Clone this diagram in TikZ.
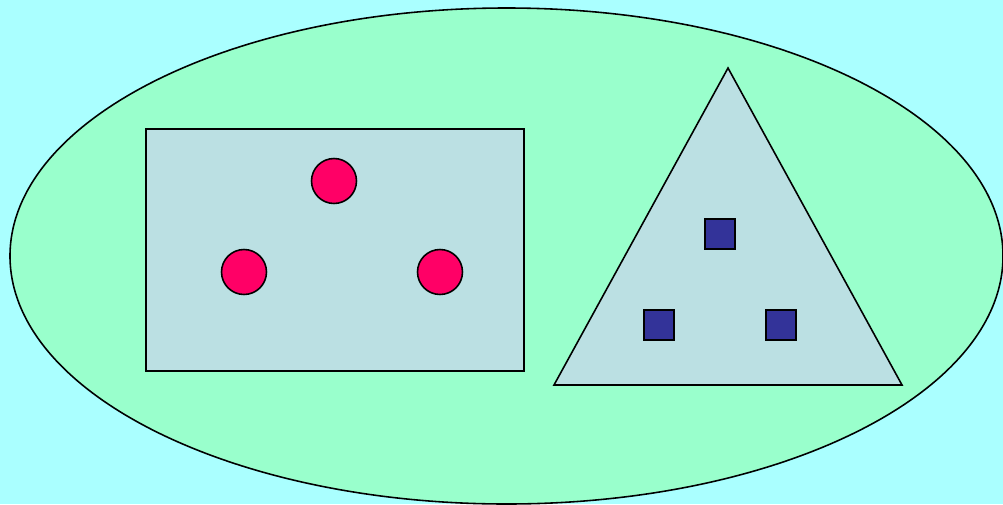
\documentclass[tikz,border=0pt]{standalone}
\usepackage{tikz}
\usetikzlibrary{shapes.geometric, positioning}
\definecolor{skycyan}{RGB}{170,255,255}
\definecolor{mintgreen}{RGB}{153,255,204}
\definecolor{paleblue}{RGB}{187,224,227}
\definecolor{hotpink}{RGB}{255,0,102}
\definecolor{deepblue}{RGB}{51,51,153}

\begin{document}
\begin{tikzpicture}[
  x=0.02cm, y=-0.02cm,
  outline/.style={draw=black, line width=0.9pt},
  dot/.style={circle, outline, fill=hotpink, minimum size=0.9cm, inner sep=0pt},
  block/.style={rectangle, outline, fill=deepblue, minimum size=0.6cm, inner sep=0pt}
]
\useasboundingbox (0,0) rectangle (1003,504);
\fill[skycyan] (0,0) rectangle (1003,504);

% big set
\draw[outline, fill=mintgreen] (506.5,256) ellipse (496.5 and 248);

% rectangle with the circles
\draw[outline, fill=paleblue] (146,129) rectangle (524,371);
\node[dot] (c1) at (334,181) {};
\node[dot] (c2) at (244,272) {};
\node[dot] (c3) at (440,272) {};

% triangle with the squares
\draw[outline, fill=paleblue] (728,68) -- (902,385) -- (554,385) -- cycle;
\node[block] (s1) at (720,234) {};
\node[block] (s2) at (659,325) {};
\node[block] (s3) at (781,325) {};

\end{tikzpicture}
\end{document}
